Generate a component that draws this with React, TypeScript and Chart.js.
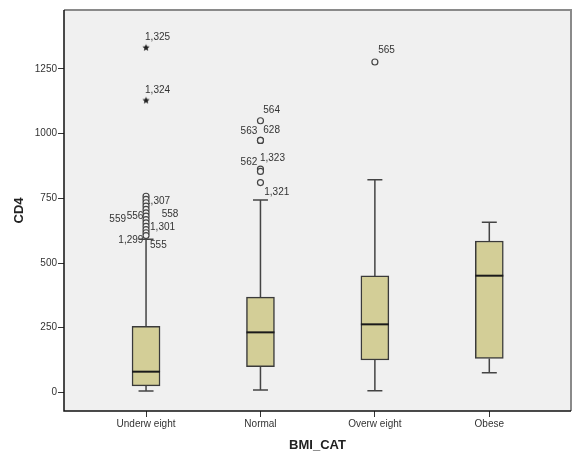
import { useEffect, useRef } from 'react';
import { Chart, registerables } from 'chart.js';

Chart.register(...registerables);

// ---------- data ----------
const categories = ['Underw eight', 'Normal', 'Overw eight', 'Obese'];
const whiskerLow = [5, 9, 6, 76];
const quartile1 = [25, 99, 125, 131];
const medians = [80, 232, 263, 451];
const quartile3 = [255, 368, 450, 585];
const whiskerHigh = [592, 744, 822, 658];

const underweightOutliers = [758, 746, 733, 720, 707, 694, 681, 668, 655, 642, 629, 617, 606];
const normalOutliers = [1050, 974, 974, 863, 854, 811];
const overweightOutliers = [1277];
const obeseOutliers: number[] = [];
const underweightExtremes = [1332, 1128];

const outlierLabelText = ['1,307', '558', '556', '559', '1,301', '1,299', '555', '564', '628', '563', '1,323', '562', '1,321', '565', '1,325', '1,324'];
const outlierLabelCategory = [0, 0, 0, 0, 0, 0, 0, 1, 1, 1, 1, 1, 1, 2, 0, 0];
const outlierLabelValue = [746, 694, 681, 668, 642, 606, 606, 1050, 974, 974, 863, 854, 811, 1277, 1332, 1128];

const yTicks = [0, 250, 500, 750, 1000, 1250];

// ---------- label placement (style) ----------
const labelOffsets: [number, number, CanvasTextAlign][] = [
  [-1, 2, 'left'],
  [15.7, 1.5, 'left'],
  [-2.7, 0.5, 'right'],
  [-20, -0.6, 'right'],
  [4, 1, 'left'],
  [-2.7, 5, 'right'],
  [4, 10, 'left'],
  [2.8, -10.7, 'left'],
  [2.8, -10.6, 'left'],
  [-3.2, -8.9, 'right'],
  [-0.5, -11, 'left'],
  [-3.2, -8.7, 'right'],
  [3.8, 10, 'left'],
  [3.3, -11.3, 'left'],
  [-1, -10.7, 'left'],
  [-1, -10.7, 'left'],
];

const FONT = '"Liberation Sans", Arial, sans-serif';

function makeStar(r: number, color: string) {
  const c = document.createElement('canvas');
  const s = Math.ceil(r * 2 + 2);
  c.width = s;
  c.height = s;
  const ctx = c.getContext('2d')!;
  ctx.fillStyle = color;
  ctx.beginPath();
  for (let i = 0; i < 10; i++) {
    const ang = -Math.PI / 2 + (i * Math.PI) / 5;
    const rr = i % 2 === 0 ? r : r * 0.45;
    ctx.lineTo(s / 2 + rr * Math.cos(ang), s / 2 + rr * Math.sin(ang));
  }
  ctx.closePath();
  ctx.fill();
  return c;
}

const boxPlugin = {
  id: 'boxExtras',
  beforeDraw(chart: any) {
    const { ctx, chartArea: a } = chart;
    ctx.save();
    ctx.fillStyle = '#ffffff';
    ctx.fillRect(0, 0, chart.width, chart.height);
    ctx.fillStyle = '#f0f0f0';
    ctx.fillRect(a.left, a.top, a.right - a.left, a.bottom - a.top);
    ctx.restore();
  },
  beforeDatasetsDraw(chart: any) {
    const { ctx, scales } = chart;
    const x = scales.x;
    const y = scales.y;
    ctx.save();
    ctx.font = `10px ${FONT}`;
    ctx.fillStyle = '#333333';
    ctx.textBaseline = 'middle';
    outlierLabelText.forEach((t, i) => {
      const px = x.getPixelForValue(outlierLabelCategory[i]) + labelOffsets[i][0];
      const py = y.getPixelForValue(outlierLabelValue[i]) + labelOffsets[i][1];
      ctx.textAlign = labelOffsets[i][2];
      ctx.fillText(t, px, py);
    });
    ctx.strokeStyle = '#444444';
    ctx.lineWidth = 1.5;
    categories.forEach((_, i) => {
      const cx = x.getPixelForValue(i);
      const yLo = y.getPixelForValue(whiskerLow[i]);
      const yQ1 = y.getPixelForValue(quartile1[i]);
      const yQ3 = y.getPixelForValue(quartile3[i]);
      const yHi = y.getPixelForValue(whiskerHigh[i]);
      ctx.beginPath();
      ctx.moveTo(cx, yLo);
      ctx.lineTo(cx, yQ1);
      ctx.moveTo(cx, yQ3);
      ctx.lineTo(cx, yHi);
      ctx.moveTo(cx - 7.5, yLo);
      ctx.lineTo(cx + 7.5, yLo);
      ctx.moveTo(cx - 7.5, yHi);
      ctx.lineTo(cx + 7.5, yHi);
      ctx.stroke();
    });
    ctx.restore();
  },
  afterDatasetsDraw(chart: any) {
    const { ctx, scales } = chart;
    const y = scales.y;
    const meta = chart.getDatasetMeta(0);
    ctx.save();
    ctx.strokeStyle = '#1a1a1a';
    ctx.lineWidth = 2;
    meta.data.forEach((bar: any, i: number) => {
      const half = bar.width / 2;
      const my = y.getPixelForValue(medians[i]);
      ctx.beginPath();
      ctx.moveTo(bar.x - half, my);
      ctx.lineTo(bar.x + half, my);
      ctx.stroke();
    });
    ctx.restore();
  },
  afterDraw(chart: any) {
    const { ctx, chartArea: a } = chart;
    ctx.save();
    ctx.strokeStyle = '#8a8a8a';
    ctx.lineWidth = 2;
    ctx.beginPath();
    ctx.moveTo(a.left, a.top);
    ctx.lineTo(a.right, a.top);
    ctx.lineTo(a.right, a.bottom);
    ctx.stroke();
    ctx.strokeStyle = '#111111';
    ctx.lineWidth = 1.5;
    ctx.beginPath();
    ctx.moveTo(a.left, a.top);
    ctx.lineTo(a.left, a.bottom);
    ctx.lineTo(a.right, a.bottom);
    ctx.stroke();
    ctx.restore();
  },
};

export default function App() {
  const ref = useRef<HTMLCanvasElement | null>(null);

  useEffect(() => {
    if (!ref.current) return;
    const star = makeStar(3.8, '#222222');
    const outlierPoints = [
      ...underweightOutliers.map((v) => ({ x: 0, y: v })),
      ...normalOutliers.map((v) => ({ x: 1, y: v })),
      ...overweightOutliers.map((v) => ({ x: 2, y: v })),
      ...obeseOutliers.map((v) => ({ x: 3, y: v })),
    ];
    const chart = new Chart(ref.current, {
      type: 'bar',
      data: {
        datasets: [
          {
            type: 'bar',
            data: quartile1.map((q, i) => ({ x: i, y: [q, quartile3[i]] })) as any,
            backgroundColor: '#d3ce97',
            borderColor: '#3a3a3a',
            borderWidth: 1.5,
            borderSkipped: false,
            barThickness: 28,
          } as any,
          {
            type: 'scatter',
            data: outlierPoints,
            pointStyle: 'circle',
            pointRadius: 3,
            pointBackgroundColor: '#f0f0f0',
            pointBorderColor: '#444444',
            pointBorderWidth: 1.2,
          } as any,
          {
            type: 'scatter',
            data: underweightExtremes.map((v) => ({ x: 0, y: v })),
            pointStyle: star,
            pointRadius: 4,
          } as any,
        ],
      },
      options: {
        responsive: false,
        animation: false,
        devicePixelRatio: 1,
        layout: { autoPadding: false, padding: { top: 10, right: 1, left: 0, bottom: 0 } },
        plugins: { legend: { display: false }, tooltip: { enabled: false } },
        scales: {
          x: {
            type: 'linear',
            offset: false,
            min: -0.717,
            max: 3.714,
            afterBuildTicks: (scale: any) => {
              scale.ticks = categories.map((_, i) => ({ value: i }));
            },
            afterFit: (scale: any) => {
              scale.height = 42;
              scale.paddingLeft = 0;
              scale.paddingRight = 0;
            },
            ticks: {
              autoSkip: false,
              maxRotation: 0,
              padding: 1,
              color: '#333333',
              font: { family: FONT, size: 10 },
              callback: (v: any) => categories[Number(v)] ?? '',
            },
            grid: { offset: false, drawOnChartArea: false, drawTicks: true, tickLength: 6, color: '#333333' },
            border: { display: false },
            title: {
              display: true,
              text: 'BMI_CAT',
              color: '#222222',
              font: { family: FONT, size: 13, weight: 'bold' },
              padding: { top: 0, bottom: 0 },
            },
          },
          y: {
            type: 'linear',
            min: -72,
            max: 1478,
            afterBuildTicks: (scale: any) => {
              scale.ticks = yTicks.map((v) => ({ value: v }));
            },
            afterFit: (scale: any) => {
              scale.width = 64;
              scale.paddingLeft = 0;
              scale.paddingRight = 0;
            },
            ticks: {
              padding: 1,
              color: '#333333',
              font: { family: FONT, size: 10 },
              callback: (v: any) => String(v),
            },
            grid: { drawOnChartArea: false, drawTicks: true, tickLength: 6, color: '#333333' },
            border: { display: false },
            title: {
              display: true,
              text: 'CD4',
              color: '#222222',
              font: { family: FONT, size: 13, weight: 'bold' },
              padding: { top: 12, bottom: 0 },
            },
          },
        },
      },
      plugins: [boxPlugin],
    });
    return () => chart.destroy();
  }, []);

  return (
    <div style={{ position: 'fixed', top: 0, left: 0, width: 572, height: 453 }}>
      <canvas ref={ref} width={572} height={453} />
    </div>
  );
}
